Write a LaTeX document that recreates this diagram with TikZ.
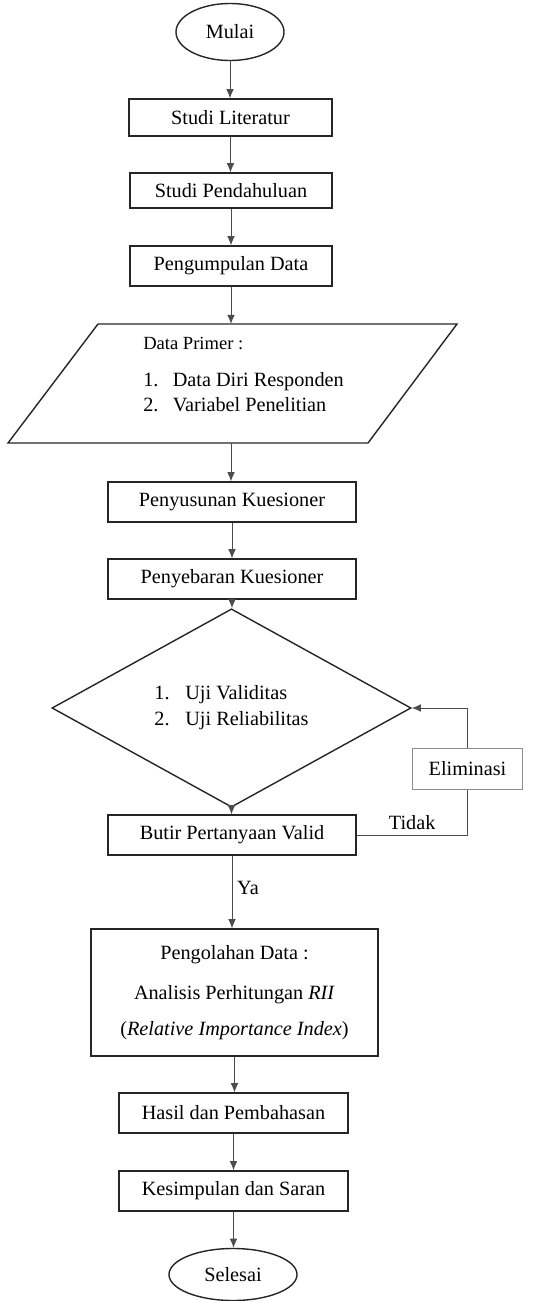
\documentclass[tikz,border=0pt]{standalone}
\usepackage{fontspec}
\setmainfont{Liberation Serif}
\usetikzlibrary{shapes.geometric,arrows.meta}

\begin{document}
\begin{tikzpicture}[x=0.025cm, y=-0.025cm]
      \tikzset{>={Latex[length=6.5pt,width=5.5pt]}}
      \tikzset{teks/.style={font=\rmfamily\fontsize{14.4}{17.7}\selectfont},
        kotak/.style={teks, draw=black!85, line width=1pt, inner sep=0pt},
        terminal/.style={kotak, ellipse},
        garis/.style={draw=black!70, line width=0.7pt},
        panah/.style={garis, ->}}

      \useasboundingbox (0,0) rectangle (541,1301);

      \node[terminal, minimum width=2.7cm, minimum height=1.425cm] (mulai) at (230,32) {Mulai};
      \node[kotak, minimum width=5.075cm, minimum height=0.925cm] (lit) at (230.5,117.5) {Studi Literatur};
      \node[kotak, minimum width=5.05cm, minimum height=0.875cm] (pend) at (231,190.5) {Studi Pendahuluan};
      \node[kotak, minimum width=5.05cm, minimum height=1cm] (kumpul) at (231,266) {Pengumpulan Data};

      % data primer
      \draw[black!85, line width=1pt] (98,324) -- (457,324) -- (368,443) -- (8,443) -- cycle;
      \coordinate (dpatas) at (231,324);
      \coordinate (dpbawah) at (231,443);
      \node[teks, anchor=north west, align=left, inner sep=0pt] (primer) at (143,337)
        {{\fontsize{13.2}{17.7}\selectfont Data Primer :}\\[8.7pt]
         \makebox[21pt][l]{1.}Data Diri Responden\\
         \makebox[21pt][l]{2.}Variabel Penelitian};

      \node[kotak, minimum width=6.2cm, minimum height=1cm] (susun) at (232,502) {Penyusunan Kuesioner};
      \node[kotak, minimum width=6.2cm, minimum height=1cm] (sebar) at (232,579) {Penyebaran Kuesioner};
      \node[kotak, diamond, minimum width=8.975cm, minimum height=3.5cm, align=left,
        font=\rmfamily\fontsize{14.4}{18.4}\selectfont] (uji) at (231.5,708)
        {\makebox[22pt][l]{1.}Uji Validitas\\ \makebox[22pt][l]{2.}Uji Reliabilitas};
      \node[teks, draw=black!45, line width=0.7pt, inner sep=0pt, minimum width=2.725cm,
        minimum height=1.025cm] (elim) at (467.5,768.5) {Eliminasi};
      \node[kotak, minimum width=6.2cm, minimum height=1cm] (butir) at (232,835) {Butir Pertanyaan Valid};
      \node[kotak, minimum width=7.175cm, minimum height=3.175cm, align=center,
        font=\rmfamily\fontsize{14.4}{25.2}\selectfont] (olah) at (234.5,992.5)
        {Pengolahan Data :\\[3.4pt] Analisis Perhitungan \textit{RII}\\ (\textit{Relative Importance Index})};
      \node[kotak, minimum width=5.725cm, minimum height=1cm] (hasil) at (233.5,1113) {Hasil dan Pembahasan};
      \node[kotak, minimum width=5.725cm, minimum height=1cm] (simpul) at (233.5,1191) {Kesimpulan dan Saran};
      \node[terminal, minimum width=3.2cm, minimum height=1.3cm] (selesai) at (233,1274.5) {Selesai};

      \foreach \a/\b in {mulai/lit, lit/pend, pend/kumpul, susun/sebar, sebar/uji, uji/butir,
          olah/hasil, hasil/simpul, simpul/selesai} {
          \draw[panah] (\a) -- (\a |- \b.north);
          }
      \draw[panah] (kumpul) -- (kumpul |- dpatas);
      \draw[panah] (dpbawah) -- (dpbawah |- susun.north);
      \draw[panah] (butir) -- (butir |- olah.north) node[teks, pos=0.45, right] {Ya};

      % jalur eliminasi
      \draw[garis] (butir.east) -- (elim.south |- butir.east) node[teks, midway, above] {Tidak} -- (elim.south);
      \draw[panah] (elim.north) |- (uji.east);
\end{tikzpicture}
\end{document}
